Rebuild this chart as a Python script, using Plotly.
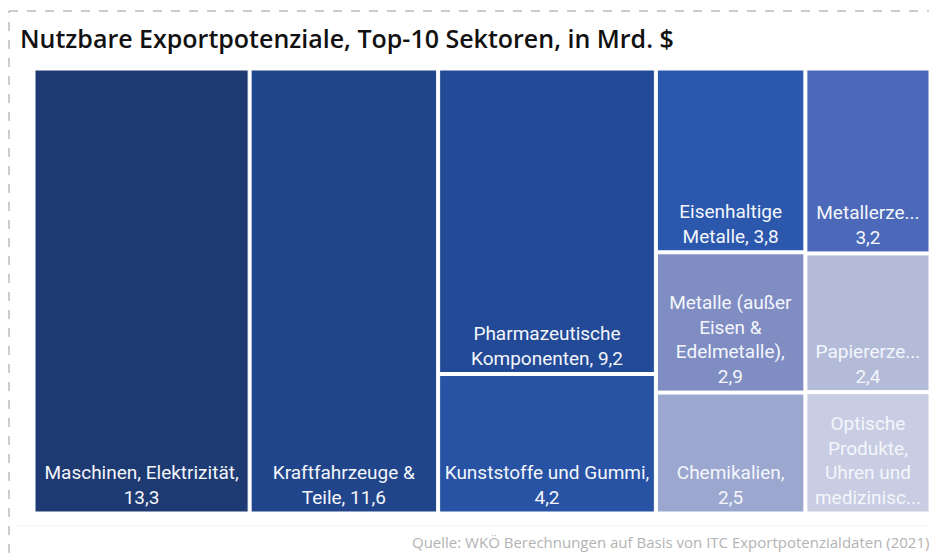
import plotly.graph_objects as go

# ---- data ----
sectors = [
    "Maschinen, Elektrizität",
    "Kraftfahrzeuge & Teile",
    "Pharmazeutische Komponenten",
    "Kunststoffe und Gummi",
    "Eisenhaltige Metalle",
    "Metalle (außer Eisen & Edelmetalle)",
    "Chemikalien",
    "Metallerze",
    "Papiererze",
    "Optische Produkte, Uhren und medizinische Geräte",
]
values = [13.3, 11.6, 9.2, 4.2, 3.8, 2.9, 2.5, 3.2, 2.4, 2.1]
columns = ["c1", "c2", "c3", "c3", "c4", "c4", "c4", "c5", "c5", "c5"]
tile_labels = [
    "Maschinen, Elektrizität,<br>{v}",
    "Kraftfahrzeuge &<br>Teile, {v}",
    "Pharmazeutische<br>Komponenten, {v}",
    "Kunststoffe und Gummi,<br>{v}",
    "Eisenhaltige<br>Metalle, {v}",
    "Metalle (außer<br>Eisen &<br>Edelmetalle),<br>{v}",
    "Chemikalien,<br>{v}",
    "Metallerze...<br>{v}",
    "Papiererze...<br>{v}",
    "Optische<br>Produkte,<br>Uhren und<br>medizinisc...",
]
colors = ["#1e3a72", "#21458a", "#234a96", "#2852a3", "#2b57ad",
          "#7f8dc3", "#9ba7cf", "#4b69b8", "#b3bbd9", "#c8cde3"]

# ---- build hierarchy ----
col_ids = []
for c in columns:
    if c not in col_ids:
        col_ids.append(c)

ids = ["root"] + col_ids + sectors
labels = [""] + ["" for _ in col_ids] + sectors
parents = [""] + ["root" for _ in col_ids] + columns
vals = [0] + [0 for _ in col_ids] + values
texts = [""] + ["" for _ in col_ids] + [
    t.replace("{v}", f"{v:.1f}".replace(".", ",")) for t, v in zip(tile_labels, values)
]
mcolors = ["white"] + ["white" for _ in col_ids] + colors

fig = go.Figure(go.Treemap(
    ids=ids,
    labels=labels,
    parents=parents,
    values=vals,
    branchvalues="remainder",
    text=texts,
    texttemplate="%{text}",
    textposition="bottom center",
    textfont=dict(family="Roboto", size=19, color="#f4f6fb"),
    marker=dict(colors=mcolors, line=dict(color="white", width=1),
                pad=dict(t=0, l=0, r=0, b=0)),
    tiling=dict(packing="slice-dice", pad=3),
    pathbar=dict(visible=False),
    sort=False,
    root=dict(color="white"),
    hoverinfo="label+value",
))

W, H = 929, 555
L, R, T, B = 35, 0, 70, 555 - 512
pw, ph = W - L - R, H - T - B

def px(x):
    return (x - L) / pw

def py(y):
    return (H - B - y) / ph

fig.update_layout(
    width=W, height=H,
    margin=dict(l=L, r=R, t=T, b=B),
    paper_bgcolor="white",
    uniformtext=dict(minsize=19, mode="show"),
    title=dict(
        text="Nutzbare Exportpotenziale, Top-10 Sektoren, in Mrd. $",
        x=20 / W, xref="container", xanchor="left",
        y=1 - 39 / H, yref="container", yanchor="middle",
        font=dict(family="Open Sans", size=25, color="#111111", weight=600),
    ),
    shapes=[
        dict(type="rect", xref="paper", yref="paper",
             x0=px(9), x1=px(960), y0=py(11), y1=py(600),
             line=dict(color="#9a9a9a", width=1, dash="dash"),
             fillcolor="rgba(0,0,0,0)", layer="below"),
        dict(type="line", xref="paper", yref="paper",
             x0=px(18), x1=px(940), y0=py(526), y1=py(526),
             line=dict(color="#f3f3f3", width=1)),
    ],
    annotations=[
        dict(text="Quelle: WKÖ Berechnungen auf Basis von ITC Exportpotenzialdaten (2021)",
             xref="paper", yref="paper", x=px(931), y=py(542),
             xanchor="right", yanchor="middle", showarrow=False,
             font=dict(family="Open Sans", size=15, color="#b3b3b3")),
    ],
)

fig.write_html(
    "out.html",
    config={"displayModeBar": False},
    post_script="document.body.style.margin='0';document.body.style.overflow='hidden';",
)
